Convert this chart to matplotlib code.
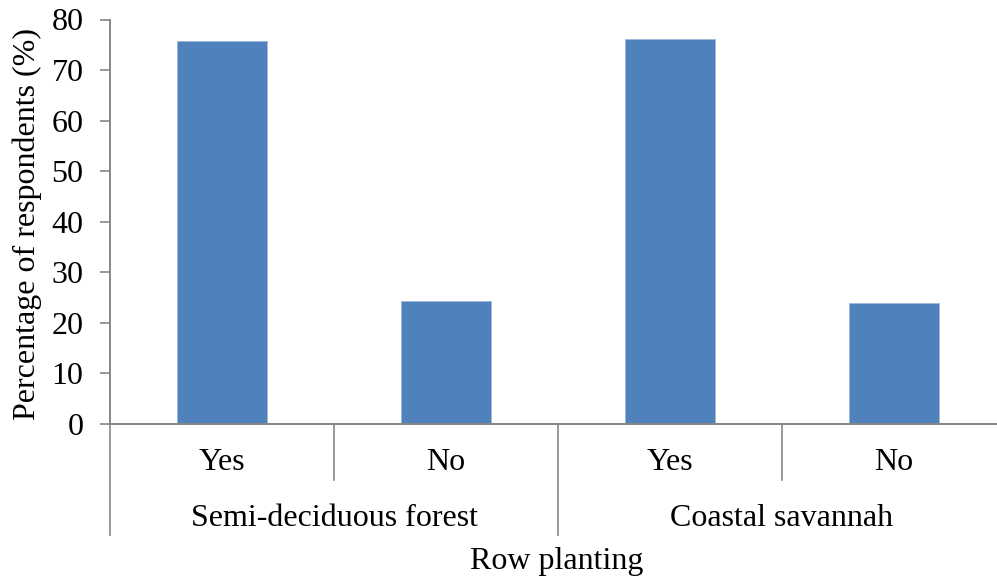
import matplotlib.pyplot as plt
import matplotlib.transforms as mtransforms

# survey responses on row planting, per zone
zones = ['Semi-deciduous forest', 'Coastal savannah']
answers = ['Yes', 'No', 'Yes', 'No']
percent = [75.7, 24.4, 76.2, 24.0]

plt.rcParams['font.family'] = ['Liberation Serif', 'DejaVu Serif']
plt.rcParams['font.size'] = 23

bar_color = '#4F81BD'
axis_gray = '#868686'

fig = plt.figure(figsize=(9.97, 5.81), dpi=100)
ax = fig.add_axes([110 / 997, 157 / 581, 896 / 997, 404.5 / 581])

x = list(range(len(percent)))
ax.bar(x, percent, width=0.4, color=bar_color, edgecolor='#9DB8DB', linewidth=0.6)

ax.set_xlim(-0.5, len(percent) - 0.5)
ax.set_ylim(0, 80)
ax.set_yticks(range(0, 81, 10))
ax.set_xticks([])
ax.tick_params(axis='y', direction='out', length=7, width=1.2,
               color=axis_gray, pad=12)

for side in ['top', 'right']:
    ax.spines[side].set_visible(False)
for side in ['left', 'bottom']:
    ax.spines[side].set_color(axis_gray)
    ax.spines[side].set_linewidth(1.4)

# two-level category axis below the bars
trans = mtransforms.blended_transform_factory(ax.transData, ax.transAxes)
for i, lab in enumerate(answers):
    ax.text(i, -0.094, lab, transform=trans, ha='center', va='center')
for i in range(1, len(answers), 2):
    ax.plot([i - 0.5, i - 0.5], [0, -0.139], transform=trans,
            color=axis_gray, lw=1.2, clip_on=False)
for g, zone in enumerate(zones):
    ax.text(2 * g + 0.5, -0.233, zone, transform=trans, ha='center', va='center')
for b in [-0.5, 1.5, 3.5]:
    ax.plot([b, b], [0, -0.275], transform=trans,
            color=axis_gray, lw=1.2, clip_on=False)

fig.text(557 / 997, 1 - 562 / 581, 'Row planting', ha='center', va='center')
fig.text(27 / 997, 1 - 224 / 581, 'Percentage of respondents (%)',
         rotation=90, ha='center', va='center')

fig.savefig('out.png', dpi=100)
